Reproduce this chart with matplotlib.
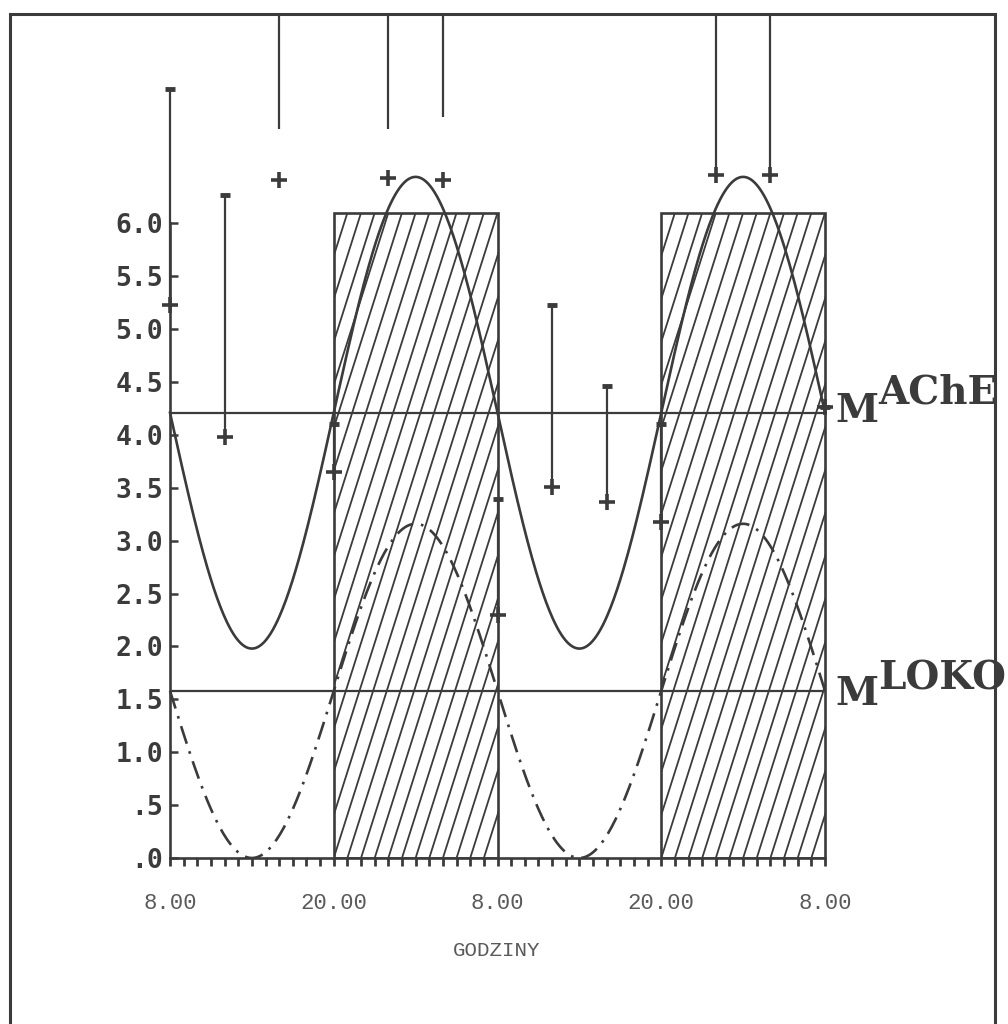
#!/usr/bin/env python3
"""Circadian AChE activity vs locomotion - cosinor curves over two days (8.00 -> 8.00)."""

import numpy as np
import matplotlib
matplotlib.use("Agg")
import matplotlib.pyplot as plt
from matplotlib.patches import Rectangle

INK = "#3b3b3b"
INK_LIGHT = "#5a5a5a"

# hours counted from 8.00 of the first day
HOURS = [0, 4, 8, 12, 16, 20, 24, 28, 32, 36, 40, 44, 48]
MEAN = [5.23, 3.98, 6.41, 3.65, 6.43, 6.41, 2.30, 3.51, 3.37, 3.18, 6.46, 6.46, 4.26]
BAR_LO = [5.23, 3.98, 6.89, 3.65, 6.89, 7.01, 2.30, 3.51, 3.37, 3.18, 6.46, 6.46, 4.26]
BAR_HI = [7.27, 6.27, 9.00, 4.10, 9.00, 9.00, 3.39, 5.23, 4.46, 4.10, 9.00, 9.00, 4.26]

# cosinor parameters
ACHE_MESOR = 4.21
ACHE_AMPLITUDE = 2.23
LOKO_MESOR = 1.58
LOKO_AMPLITUDE = 1.58
ACROPHASE_H = 18.0   # 2.00 at night
PERIOD_H = 24.0

NIGHTS = [(12, 24), (36, 48)]
NIGHT_TOP = 6.1

X_TICKS = [0, 12, 24, 36, 48]
X_LABELS = ["8.00", "20.00", "8.00", "20.00", "8.00"]
Y_TICKS = [6.0, 5.5, 5.0, 4.5, 4.0, 3.5, 3.0, 2.5, 2.0, 1.5, 1.0, 0.5, 0.0]
Y_LABELS = ["6.0", "5.5", "5.0", "4.5", "4.0", "3.5", "3.0", "2.5", "2.0", "1.5", "1.0", ".5", ".0"]

W, H = 1008, 1024
PX_PER_H = 655 / 48
HATCH_STEP = 1.0    # one stroke per hour
HATCH_RUN = 15.0    # hours a stroke drifts over the full height of the bar


def cosinor(t, mesor, amp):
    return mesor + amp * np.cos(2 * np.pi * (t - ACROPHASE_H) / PERIOD_H)


def hatch_rect(ax, x0, x1, top):
    rect = Rectangle((x0, 0), x1 - x0, top, fill=False, ec=INK, lw=1.9, zorder=2)
    ax.add_patch(rect)
    for s in np.arange(x0 - HATCH_RUN, x1, HATCH_STEP):
        ln, = ax.plot([s, s + HATCH_RUN], [0, top], color=INK, lw=1.3, zorder=1)
        ln.set_clip_path(rect)


def main():
    fig = plt.figure(figsize=(W / 100, H / 100), dpi=100)
    fig.patch.set_facecolor("white")
    # one spare hour each side so the bars on the edges are not cut in half
    ax = fig.add_axes([(170 - PX_PER_H) / W, 1 - 858 / H,
                       (655 + 2 * PX_PER_H) / W, (858 - 14) / H])
    ax.set_xlim(-1, 49)
    ax.set_ylim(0, 7.98)

    for x0, x1 in NIGHTS:
        hatch_rect(ax, x0, x1, NIGHT_TOP)

    t = np.linspace(0, 48, 600)
    ax.plot(t, cosinor(t, ACHE_MESOR, ACHE_AMPLITUDE), color=INK, lw=1.9, zorder=3)
    ax.plot(t, cosinor(t, LOKO_MESOR, LOKO_AMPLITUDE), color=INK, lw=1.9,
            dashes=(7, 3, 1, 3), zorder=3)

    ax.hlines([ACHE_MESOR, LOKO_MESOR], 0, 48, color=INK, lw=1.6, zorder=3)

    # error bars (upper side only) and means
    ax.vlines(HOURS, BAR_LO, BAR_HI, color=INK, lw=1.6, zorder=4)
    ax.plot(HOURS, BAR_HI, ls="none", marker="_", ms=7, mew=3.5, color=INK, zorder=4)
    ax.plot(HOURS, MEAN, ls="none", marker="+", ms=12, mew=2.6, color=INK, zorder=5)

    for side in ("top", "right"):
        ax.spines[side].set_visible(False)
    ax.spines["left"].set_position(("data", 0))
    ax.spines["left"].set_bounds(0, 6.0)
    ax.spines["bottom"].set_bounds(0, 48)
    for side in ("left", "bottom"):
        ax.spines[side].set_color(INK)
        ax.spines[side].set_linewidth(1.9)

    ax.set_yticks(Y_TICKS)
    ax.set_yticklabels(Y_LABELS, family="DejaVu Sans Mono", fontweight="bold",
                       fontsize=19, color=INK)
    ax.tick_params(axis="y", direction="in", length=6, width=1.8, color=INK, pad=5)

    ax.set_xticks(X_TICKS)
    ax.set_xticklabels(X_LABELS, family="Liberation Mono", fontsize=16, color=INK_LIGHT)
    ax.set_xticks(np.arange(0, 49, 1), minor=True)
    ax.tick_params(axis="x", which="both", direction="out", length=6, width=2.0,
                   color=INK, pad=19)

    label_font = dict(family="DejaVu Serif", fontweight="bold", fontsize=28, color=INK)
    m1 = ax.text(48.75, ACHE_MESOR - 0.09, "M", va="baseline", ha="left", **label_font)
    ax.annotate("AChE", xy=(1, 0), xycoords=m1, xytext=(0, 13.5),
                textcoords="offset points", va="bottom", ha="left", **label_font)
    m2 = ax.text(48.75, LOKO_MESOR - 0.13, "M", va="baseline", ha="left", **label_font)
    ax.annotate("LOKO", xy=(1, 0), xycoords=m2, xytext=(0, 11),
                textcoords="offset points", va="bottom", ha="left", **label_font)

    fig.text(497 / W, 1 - 950 / H, "GODZINY", family="Liberation Mono", fontsize=15,
             color=INK_LIGHT, ha="center", va="center")

    fig.add_artist(Rectangle((10 / W, -0.02), (995 - 10) / W, (H - 14) / H + 0.02,
                             transform=fig.transFigure, fill=False, ec=INK, lw=2.2))

    fig.savefig("out.png", dpi=100)
    plt.close(fig)


if __name__ == "__main__":
    main()
